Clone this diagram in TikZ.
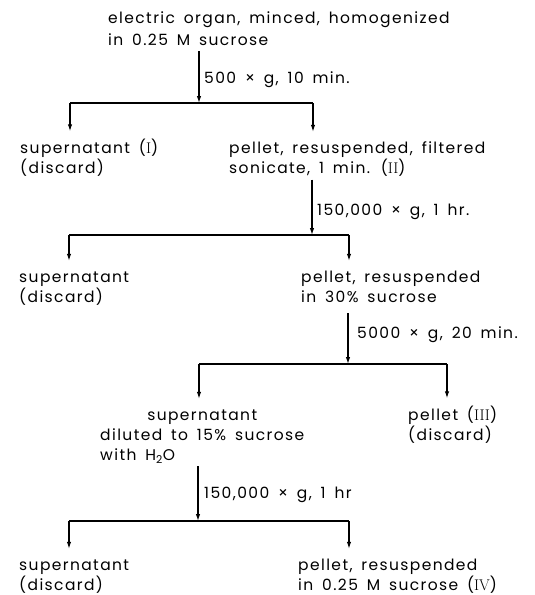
\documentclass[tikz,border=0pt]{standalone}
\usepackage{fontspec}
\setmainfont[LetterSpace=9,WordSpace=1.6]{Poppins}
\usetikzlibrary{arrows.meta}
\newcommand{\flowfont}{\fontsize{15.5}{20}\selectfont}
\newcommand{\rnum}[1]{{\fontfamily{lmr}\selectfont #1}}
\newcommand{\stack}[1]{\begin{tabular}[t]{@{}l@{}}#1\end{tabular}}
\tikzset{
        txt/.style={anchor=base west, inner sep=0pt, font=\flowfont},
        flow/.style={line width=1.2pt, -{Latex[length=7pt,width=4.5pt]}},
        drop/.style={flow, shorten >=7pt},
        bar/.style={line width=1.7pt},
}

\begin{document}
\begin{tikzpicture}[x=1pt, y=-1pt]
        \useasboundingbox (0,0) rectangle (535,595);
        % texts
        \node (homog) [txt] at (108, 23) {\stack{electric organ, minced, homogenized\\[2pt] in 0.25 M sucrose}};
        \node (spin1) [txt] at (204, 83) {500 × g, 10 min.};
        \node (sup1) [txt] at (20, 153) {\stack{supernatant (\rnum{I})\\ (discard)}};
        \node (pel1) [txt] at (229, 153) {\stack{pellet, resuspended, filtered\\ sonicate, 1 min. (\rnum{II})}};
        \node (spin2) [txt] at (317, 215) {150,000 × g, 1 hr.};
        \node (sup2) [txt] at (19, 282) {\stack{supernatant\\ (discard)}};
        \node (pel2) [txt] at (301, 282) {\stack{pellet, resuspended\\ in 30\% sucrose}};
        \node (spin3) [txt] at (357, 338) {5000 × g, 20 min.};
        \node (sup3) [txt] at (100, 420) {\stack{\multicolumn{1}{@{}c@{}}{supernatant}\\ diluted to 15\% sucrose\\ with H\textsubscript{2}O}};
        \node (pel3) [txt] at (408, 420) {\stack{pellet (\rnum{III})\\ (discard)}};
        \node (spin4) [txt] at (204, 498) {150,000 × g, 1 hr};
        \node (sup4) [txt] at (19, 570) {\stack{supernatant\\ (discard)}};
        \node (pel4) [txt] at (298, 570) {\stack{pellet, resuspended\\ in 0.25 M sucrose (\rnum{IV})}};
        % branch points
        \coordinate (j1) at (199, 103);
        \coordinate (l1) at (70, 103);
        \coordinate (r1) at (313, 103);
        \coordinate (j2) at (312, 235);
        \coordinate (l2) at (69, 235);
        \coordinate (r2) at (349, 235);
        \coordinate (j3) at (348, 364);
        \coordinate (l3) at (199, 364);
        \coordinate (r3) at (447, 364);
        \coordinate (j4) at (198, 521);
        \coordinate (l4) at (69, 521);
        \coordinate (r4) at (349, 521);
        % connectors
        \draw [flow] (homog.south -| j1) -- (j1);
        \draw [bar] (l1) -- (r1);
        \draw [drop] (l1) -- (l1 |- sup1.north);
        \draw [drop] (r1) -- (r1 |- pel1.north);
        \draw [flow] (pel1.south -| j2) -- (j2);
        \draw [bar] (l2) -- (r2);
        \draw [drop] (l2) -- (l2 |- sup2.north);
        \draw [drop] (r2) -- (r2 |- pel2.north);
        \draw [flow] ([yshift=-5pt]pel2.south -| j3) -- (j3);
        \draw [bar] (l3) -- (r3);
        \draw [drop] (l3) -- (l3 |- sup3.north);
        \draw [drop] (r3) -- (r3 |- pel3.north);
        \draw [flow] (sup3.south -| j4) -- (j4);
        \draw [bar] (l4) -- (r4);
        \draw [drop] (l4) -- (l4 |- sup4.north);
        \draw [drop] (r4) -- (r4 |- pel4.north);
\end{tikzpicture}
\end{document}
